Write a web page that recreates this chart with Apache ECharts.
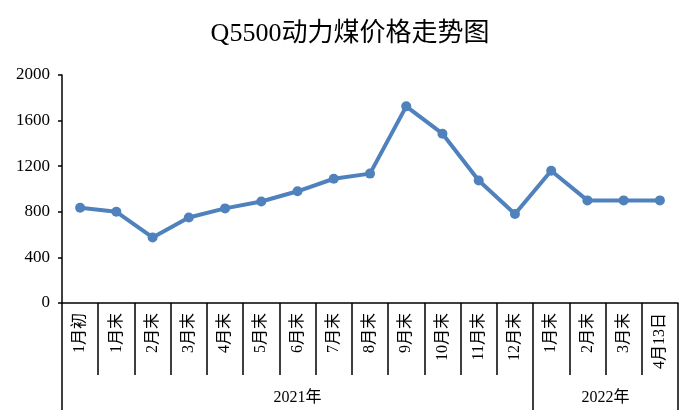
<!DOCTYPE html>
<html>
<head>
<meta charset="utf-8">
<script src="https://cdn.jsdelivr.net/npm/echarts@6/dist/echarts.min.js"></script>
<style>
html,body{margin:0;padding:0;background:#fff;}
#c{width:700px;height:420px;}
</style>
</head>
<body>
<div id="c"></div>
<script>
const title = 'Q5500动力煤价格走势图';
const categories = ['1月初','1月末','2月末','3月末','4月末','5月末','6月末','7月末','8月末','9月末','10月末','11月末','12月末','1月末','2月末','3月末','4月13日'];
const prices = [835, 800, 575, 750, 830, 890, 980, 1090, 1135, 1725, 1485, 1075, 780, 1160, 900, 900, 900];
const yearLabels = ['2021年', '2022年'];
const yearBoundaries = [0, 13, 17];
const yearCenters = [6.5, 15];
const yTicks = [0, 400, 800, 1200, 1600, 2000];

const FONT = "'Liberation Serif','Noto Sans CJK SC',serif";
const chart = echarts.init(document.getElementById('c'));
chart.setOption({
  backgroundColor: '#fff',
  animation: false,
  title: {
    text: title, left: 'center', top: 16,
    textStyle: {fontFamily: FONT, fontSize: 26, fontWeight: 'normal', color: '#000'}
  },
  grid: {left: 62, right: 22, top: 75, bottom: 117, containLabel: false},
  xAxis: [{
    type: 'category', data: categories, boundaryGap: true, position: 'bottom',
    axisLine: {show: true, lineStyle: {color: '#000', width: 1.5}},
    axisTick: {show: true, length: 72, inside: false, alignWithLabel: false, lineStyle: {color: '#000', width: 1.5}},
    axisLabel: {rotate: 90, margin: 10, interval: 0, fontFamily: FONT, fontSize: 16, color: '#000'},
    splitLine: {show: false}
  }, {
    type: 'value', min: 0, max: 17, position: 'bottom', offset: 0,
    axisLine: {show: false},
    axisTick: {show: true, customValues: yearBoundaries, length: 107, inside: false, lineStyle: {color: '#000', width: 1.5}},
    axisLabel: {
      show: true, customValues: yearCenters, margin: 87, fontFamily: FONT, fontSize: 16, color: '#000',
      formatter: function (v) { const i = yearCenters.indexOf(v); return i >= 0 ? yearLabels[i] : ''; }
    },
    splitLine: {show: false}
  }],
  yAxis: {
    type: 'value', min: yTicks[0], max: yTicks[yTicks.length - 1], interval: 400,
    axisLine: {show: true, lineStyle: {color: '#000', width: 1.5}},
    axisTick: {show: true, length: 4, lineStyle: {color: '#000', width: 1.5}},
    axisLabel: {margin: 12, fontFamily: FONT, fontSize: 17, color: '#000', formatter: function (v) { return String(v); }},
    splitLine: {show: false}
  },
  series: [{
    type: 'line', xAxisIndex: 0, data: prices,
    symbol: 'circle', symbolSize: 10,
    lineStyle: {color: '#4f81bd', width: 4},
    itemStyle: {color: '#4f81bd'}
  }]
});
</script>
</body>
</html>
